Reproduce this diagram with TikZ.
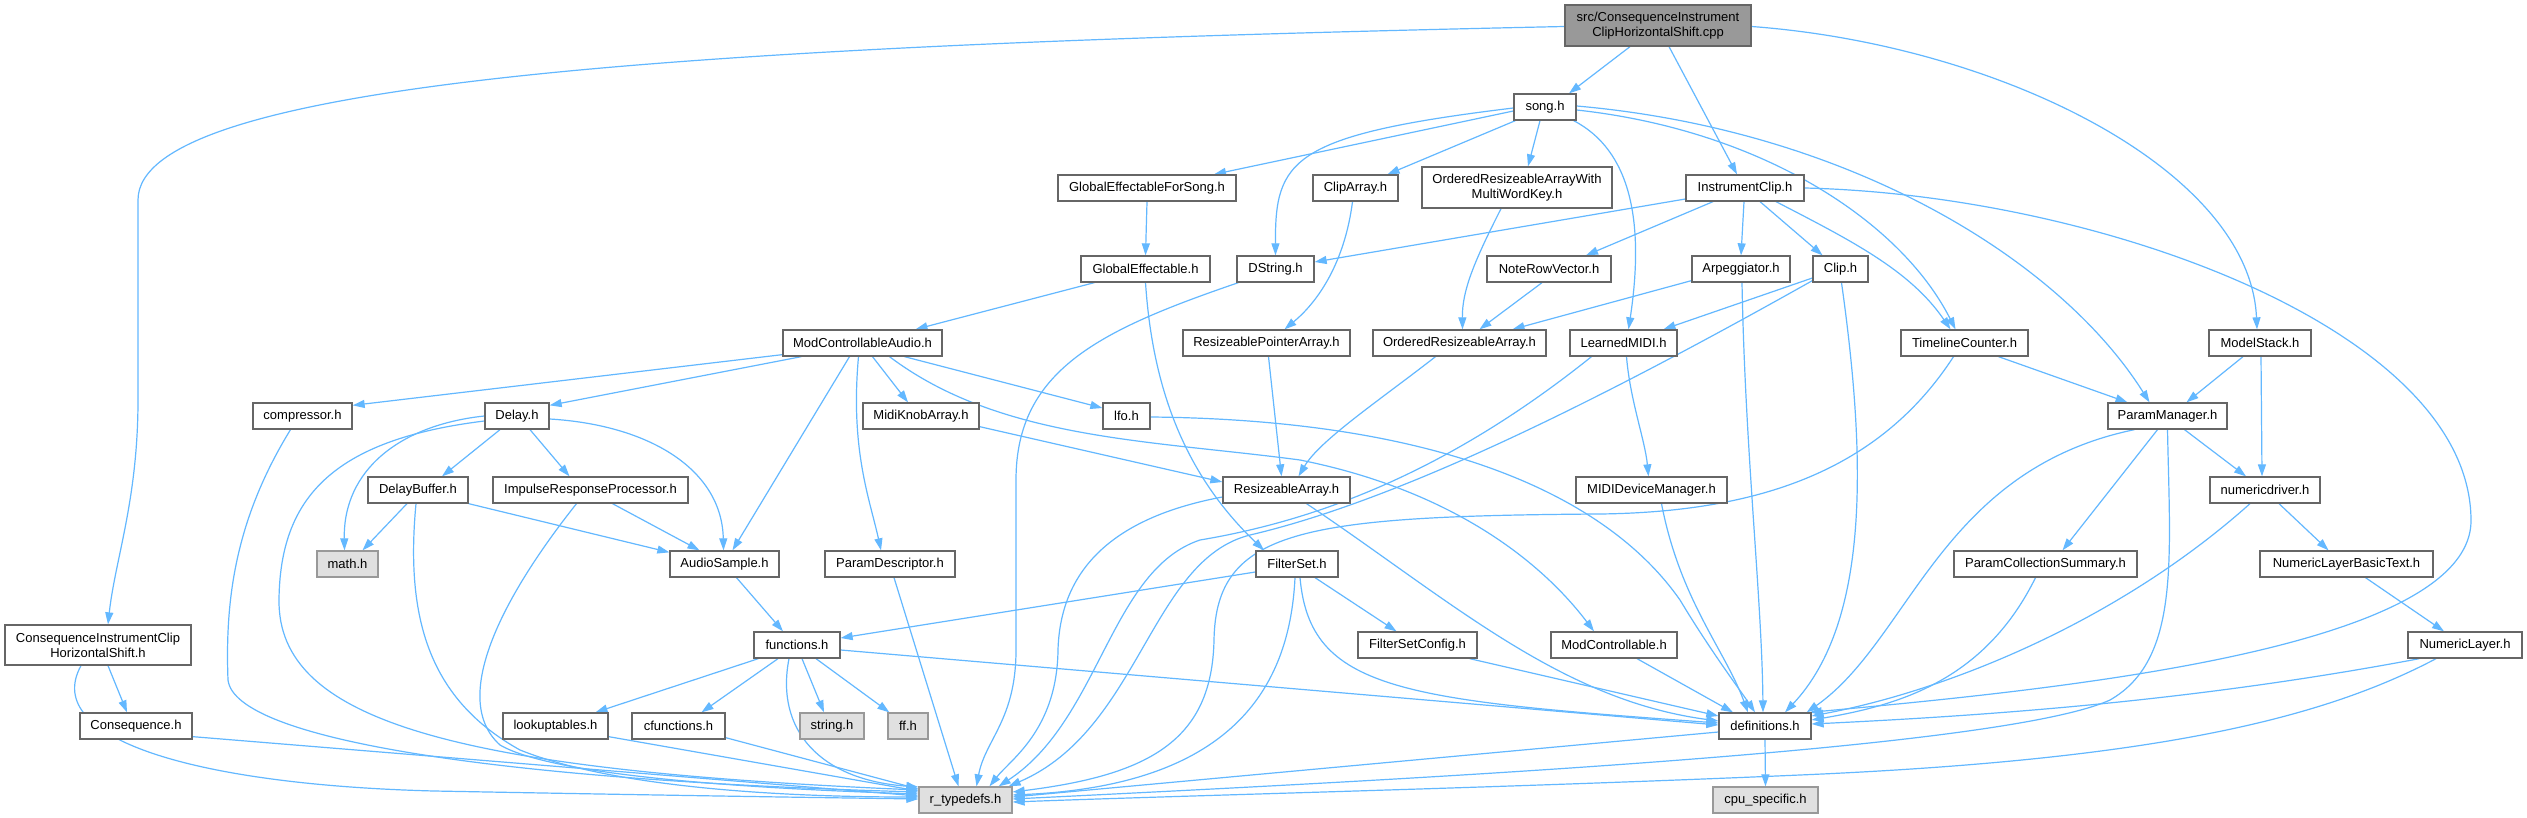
\documentclass[tikz,border=0pt]{standalone}
\usepackage{fontspec}
\setmainfont{Liberation Sans}
\usetikzlibrary{arrows.meta,calc}
\definecolor{edgec}{HTML}{63B8FF}
\definecolor{bordc}{HTML}{666666}
\definecolor{grayfill}{HTML}{E0E0E0}
\definecolor{grayb}{HTML}{999999}
\definecolor{mainfill}{HTML}{999999}
\pgfdeclarelayer{bg}\pgfdeclarelayer{edges}\pgfsetlayers{bg,edges,main}
\begin{document}
\begin{tikzpicture}[x=1pt,y=-1pt,
  nb/.style={rectangle,draw=bordc,fill=white,line width=1.3pt,inner sep=0pt,minimum height=26pt,font=\fontsize{13}{15}\selectfont,align=center,text=black},
  sysb/.style={nb,draw=grayb,fill=grayfill},
  mainb/.style={nb,fill=mainfill,minimum height=41pt},
  edge/.style={draw=edgec,line width=1.2pt,-{Triangle[length=12pt,width=8pt]}}]
\begin{pgfonlayer}{bg}
\fill[white] (0,0) rectangle (2527,818);
\end{pgfonlayer}
\useasboundingbox (0,0) rectangle (2527,818);
% nodes
\node[mainb,minimum width=186pt] (main) at (1658,25.5) {src/ConsequenceInstrument\\ClipHorizontalShift.cpp};
\node[nb,minimum width=62pt] (song) at (1545,107) {song.h};
\node[nb,minimum width=118pt] (IC) at (1745,188) {InstrumentClip.h};
\node[nb,minimum width=102pt] (MS) at (2260,343) {ModelStack.h};
\node[nb,minimum width=186pt,minimum height=40pt] (CICHS) at (98,645) {ConsequenceInstrumentClip\\HorizontalShift.h};
\node[nb,minimum width=178pt] (GEFS) at (1147,188) {GlobalEffectableForSong.h};
\node[nb,minimum width=85pt] (ClipArray) at (1355.5,188) {ClipArray.h};
\node[nb,minimum width=190pt,minimum height=41pt] (ORAWMWK) at (1517,187.5) {OrderedResizeableArrayWith\\MultiWordKey.h};
\node[nb,minimum width=129pt] (GE) at (1145.5,269) {GlobalEffectable.h};
\node[nb,minimum width=77pt] (DString) at (1275.5,269) {DString.h};
\node[nb,minimum width=124pt] (NRV) at (1549,269) {NoteRowVector.h};
\node[nb,minimum width=98pt] (Arp) at (1741,269) {Arpeggiator.h};
\node[nb,minimum width=55pt] (Clip) at (1840.5,269) {Clip.h};
\node[nb,minimum width=159pt] (MCA) at (862.5,343) {ModControllableAudio.h};
\node[nb,minimum width=167pt] (RPA) at (1266.5,343) {ResizeablePointerArray.h};
\node[nb,minimum width=173pt] (ORA) at (1459.5,343) {OrderedResizeableArray.h};
\node[nb,minimum width=107pt] (LMIDI) at (1623.5,343) {LearnedMIDI.h};
\node[nb,minimum width=127pt] (TC) at (1964.5,343) {TimelineCounter.h};
\node[nb,minimum width=99pt] (compressor) at (302.5,416) {compressor.h};
\node[nb,minimum width=64pt] (Delay) at (517,416) {Delay.h};
\node[nb,minimum width=116pt] (MKA) at (921,416) {MidiKnobArray.h};
\node[nb,minimum width=47pt] (lfo) at (1126.5,416) {lfo.h};
\node[nb,minimum width=119pt] (PM) at (2167.5,416) {ParamManager.h};
\node[nb,minimum width=100pt] (DelayBuffer) at (418,490) {DelayBuffer.h};
\node[nb,minimum width=195pt] (IRP) at (590.5,490) {ImpulseResponseProcessor.h};
\node[nb,minimum width=127pt] (RA) at (1286.5,490) {ResizeableArray.h};
\node[nb,minimum width=151pt] (MIDIDM) at (1651.5,490) {MIDIDeviceManager.h};
\node[nb,minimum width=110pt] (numericdriver) at (2265,490) {numericdriver.h};
\node[sysb,minimum width=61pt] (math) at (347.5,564) {math.h};
\node[nb,minimum width=109pt] (AudioSample) at (724.5,564) {AudioSample.h};
\node[nb,minimum width=130pt] (ParamDescriptor) at (890,564) {ParamDescriptor.h};
\node[nb,minimum width=82pt] (FilterSet) at (1297,564) {FilterSet.h};
\node[nb,minimum width=183pt] (PCS) at (2045.5,564) {ParamCollectionSummary.h};
\node[nb,minimum width=173pt] (NLBT) at (2346.5,564) {NumericLayerBasicText.h};
\node[nb,minimum width=86pt] (functions) at (797,645) {functions.h};
\node[nb,minimum width=119pt] (FSC) at (1417.5,645) {FilterSetConfig.h};
\node[nb,minimum width=126pt] (ModControllable) at (1614,645) {ModControllable.h};
\node[nb,minimum width=114pt] (NumericLayer) at (2465,645) {NumericLayer.h};
\node[nb,minimum width=112pt] (Consequence) at (136,726) {Consequence.h};
\node[nb,minimum width=105pt] (lookuptables) at (555.5,726) {lookuptables.h};
\node[nb,minimum width=93pt] (cfunctions) at (678.5,726) {cfunctions.h};
\node[sysb,minimum width=64pt] (string) at (832,726) {string.h};
\node[sysb,minimum width=40pt] (ff) at (908,726) {ff.h};
\node[nb,minimum width=92pt] (definitions) at (1765,726) {definitions.h};
\node[sysb,minimum width=93pt] (rtypedefs) at (965.5,800) {r\_typedefs.h};
\node[sysb,minimum width=105pt] (cpuspecific) at (1765.5,800) {cpu\_specific.h};
% edges
\begin{pgfonlayer}{edges}
% main
\draw[edge] ($(main.south)+(-28,0)$) -- ($(song.north)+(24,0)$);
\draw[edge] ($(main.south)+(11,0)$) -- ($(IC.north)+(-8,0)$);
\draw[edge] ($(main.east)+(0,1)$) .. controls (2000,45) and (2250,170) .. ($(MS.north)+(-3,0)$);
\draw[edge] ($(main.west)+(0,1)$) .. controls (700,45) and (138,80) .. (138,200) -- (138,400) .. controls (138,500) and (115,560) .. ($(CICHS.north)+(10,0)$);
% song
\draw[edge] ($(song.west)+(0,4)$) -- ($(GEFS.north)+(67,0)$);
\draw[edge] ($(song.west)+(0,1)$) .. controls (1290,135) and (1275,160) .. (DString.north);
\draw[edge] ($(song.south west)+(2,0)$) -- ($(ClipArray.north)+(32,0)$);
\draw[edge] ($(song.south)+(-5,0)$) -- ($(ORAWMWK.north)+(11,0)$);
\draw[edge] ($(song.south east)+(-3,0)$) .. controls (1630,150) and (1645,220) .. ($(LMIDI.north)+(5,0)$);
\draw[edge] ($(song.east)+(0,3)$) .. controls (1760,130) and (1900,220) .. ($(TC.north)+(-9,0)$);
\draw[edge] ($(song.east)+(0,-1)$) .. controls (1850,130) and (2060,260) .. ($(PM.north)+(-18,0)$);
% InstrumentClip
\draw[edge] ($(IC.west)+(0,11)$) -- ($(DString.east)+(0,-7)$);
\draw[edge] ($(IC.south)+(-32,0)$) -- ($(NRV.north)+(37,0)$);
\draw[edge] ($(IC.south)+(-1,0)$) -- (Arp.north);
\draw[edge] ($(IC.south)+(15,0)$) -- ($(Clip.north)+(-18,0)$);
\draw[edge] ($(IC.south)+(31,0)$) .. controls (1850,240) and (1910,270) .. ($(TC.north)+(-14,0)$);
\draw[edge] (IC.east) .. controls (2100,195) and (2470,330) .. (2471,520) .. controls (2472,650) and (2050,690) .. ($(definitions.north east)+(-2,0)$);
% ModelStack, TimelineCounter
\draw[edge] ($(MS.south)+(-17,0)$) -- ($(PM.north)+(19,0)$);
\draw[edge] ($(MS.south)+(1,0)$) -- ($(numericdriver.north)+(-3,0)$);
\draw[edge] ($(TC.south)+(34,0)$) -- ($(PM.north)+(-40,0)$);
\draw[edge] ($(TC.south)+(-11,0)$) .. controls (1880,470) and (1760,512) .. (1600,514) .. controls (1300,516) and (1216,530) .. (1214,640) .. controls (1212,740) and (1150,775) .. ($(rtypedefs.east)+(0,-8)$);
% Clip
\draw[edge] ($(Clip.west)+(0,9)$) -- ($(LMIDI.north)+(40,0)$);
\draw[edge] ($(Clip.south west)+(0,-2)$) .. controls (1600,400) and (1400,500) .. (1250,535) .. controls (1150,560) and (1140,730) .. ($(rtypedefs.north east)+(-4,0)$);
\draw[edge] ($(Clip.south)+(1,0)$) .. controls (1865,450) and (1872,620) .. ($(definitions.north)+(20,0)$);
% Arpeggiator
\draw[edge] ($(Arp.south west)+(0,-2)$) -- ($(ORA.north)+(53,0)$);
\draw[edge] ($(Arp.south)+(1,0)$) .. controls (1745,450) and (1762,600) .. ($(definitions.north)+(-2,0)$);
% upper middle
\draw[edge] (GEFS.south) -- (GE.north);
\draw[edge] ($(GE.south west)+(14,0)$) -- ($(MCA.north)+(53,0)$);
\draw[edge] (GE.south) .. controls (1152,380) and (1180,470) .. ($(FilterSet.north)+(-33,0)$);
\draw[edge] ($(ClipArray.south)+(-3,0)$) .. controls (1345,260) and (1320,300) .. ($(RPA.north)+(18,0)$);
\draw[edge] ($(ORAWMWK.south)+(-16,0)$) .. controls (1475,260) and (1462,290) .. ($(ORA.north)+(3,0)$);
\draw[edge] ($(NRV.south)+(-7,0)$) -- ($(ORA.north)+(20,0)$);
\draw[edge] ($(LMIDI.south)+(3,0)$) .. controls (1630,400) and (1645,440) .. ($(MIDIDM.north)+(-3,0)$);
\draw[edge] ($(LMIDI.south)+(-32,0)$) .. controls (1450,470) and (1320,520) .. (1200,540) .. controls (1110,570) and (1100,720) .. ($(rtypedefs.north east)+(-14,0)$);
% ResizeableArray
\draw[edge] ($(RPA.south)+(2,0)$) -- ($(RA.north)+(-5,0)$);
\draw[edge] ($(ORA.south)+(-24,0)$) .. controls (1380,400) and (1320,440) .. ($(RA.north)+(12,0)$);
\draw[edge] ($(MKA.south east)+(0,-3)$) -- ($(RA.west)+(0,-8)$);
\draw[edge] ($(RA.west)+(0,7)$) .. controls (1100,520) and (1060,580) .. (1058,650) .. controls (1057,730) and (1010,760) .. ($(rtypedefs.north)+(24,0)$);
\draw[edge] ($(RA.south)+(20,0)$) .. controls (1450,600) and (1560,700) .. ($(definitions.west)+(0,-5)$);
% ModControllableAudio
\draw[edge] ($(MCA.south west)+(0,-2)$) -- ($(compressor.north east)+(0,3)$);
\draw[edge] ($(MCA.south west)+(19,0)$) -- ($(Delay.north east)+(0,3)$);
\draw[edge] ($(MCA.south)+(10,0)$) -- ($(MKA.north)+(-13,0)$);
\draw[edge] ($(MCA.south)+(42,0)$) -- ($(lfo.west)+(0,-8)$);
\draw[edge] ($(MCA.south)+(-13,0)$) -- ($(AudioSample.north)+(8,0)$);
\draw[edge] ($(MCA.south)+(-4,0)$) .. controls (850,450) and (870,500) .. ($(ParamDescriptor.north)+(-9,0)$);
\draw[edge] ($(MCA.south)+(27,0)$) .. controls (1000,440) and (1150,440) .. (1300,460) .. controls (1450,490) and (1540,560) .. ($(ModControllable.north)+(-20,0)$);
% compressor / Delay family
\draw[edge] ($(compressor.south)+(-12,0)$) .. controls (235,520) and (225,600) .. (228,680) .. controls (235,740) and (500,780) .. ($(rtypedefs.west)+(0,-8)$);
\draw[edge] ($(Delay.west)+(0,5)$) .. controls (330,440) and (280,500) .. (279,600) .. controls (278,720) and (450,770) .. ($(rtypedefs.west)+(0,-10)$);
\draw[edge] (Delay.west) .. controls (400,425) and (343,470) .. ($(math.north)+(-3,0)$);
\draw[edge] ($(Delay.south)+(-17,0)$) -- ($(DelayBuffer.north)+(24,0)$);
\draw[edge] ($(Delay.south)+(13,0)$) -- ($(IRP.north)+(-21,0)$);
\draw[edge] ($(Delay.east)+(0,3)$) .. controls (650,425) and (722,470) .. ($(AudioSample.north)+(-1,0)$);
\draw[edge] ($(DelayBuffer.south)+(-2,0)$) .. controls (405,620) and (430,700) .. (520,750) .. controls (620,790) and (800,797) .. ($(rtypedefs.west)+(0,-3)$);
\draw[edge] ($(DelayBuffer.south)+(-11,0)$) -- ($(math.north)+(15,0)$);
\draw[edge] (DelayBuffer.south east) -- ($(AudioSample.north west)+(0,2)$);
\draw[edge] ($(IRP.south)+(-14,0)$) .. controls (500,600) and (450,700) .. (500,745) .. controls (560,780) and (800,790) .. ($(rtypedefs.west)+(0,-6)$);
\draw[edge] ($(IRP.south)+(22,0)$) -- ($(AudioSample.north)+(-25,0)$);
\draw[edge] ($(AudioSample.south)+(12,0)$) -- ($(functions.north)+(-14,0)$);
\draw[edge] ($(ParamDescriptor.south)+(4,0)$) -- ($(rtypedefs.north)+(-7,0)$);
\draw[edge] ($(DString.south west)+(2,0)$) .. controls (1100,330) and (1016,370) .. (1016,480) -- (1016,650) .. controls (1016,720) and (985,740) .. ($(rtypedefs.north)+(11,0)$);
% FilterSet
\draw[edge] ($(FilterSet.west)+(0,8)$) -- ($(functions.east)+(0,-7)$);
\draw[edge] ($(FilterSet.south)+(18,0)$) -- ($(FSC.north)+(-21,0)$);
\draw[edge] ($(FilterSet.south)+(3,0)$) .. controls (1310,690) and (1400,700) .. ($(definitions.west)+(0,-3)$);
\draw[edge] ($(FilterSet.south)+(-2,0)$) .. controls (1290,680) and (1240,785) .. ($(rtypedefs.east)+(0,-5)$);
\draw[edge] ($(FSC.south east)+(-8,0)$) -- ($(definitions.west)+(0,-10)$);
\draw[edge] ($(ModControllable.south)+(23,0)$) -- ($(definitions.north)+(-32,0)$);
\draw[edge] ($(functions.east)+(0,5)$) -- ($(definitions.west)+(0,-1)$);
\draw[edge] ($(lfo.east)+(0,1)$) .. controls (1450,420) and (1610,500) .. (1680,600) .. controls (1710,650) and (1740,690) .. ($(definitions.north)+(-10,0)$);
\draw[edge] ($(MIDIDM.south)+(10,0)$) .. controls (1680,600) and (1725,650) .. ($(definitions.north)+(-17,0)$);
% ParamManager family
\draw[edge] ($(PM.south west)+(27,0)$) .. controls (1940,470) and (1910,640) .. ($(definitions.north east)+(-5,0)$);
\draw[edge] (PM.south) .. controls (2170,560) and (2180,660) .. (2110,700) .. controls (2000,750) and (1400,780) .. ($(rtypedefs.east)+(0,-1)$);
\draw[edge] ($(PM.south)+(-10,0)$) -- ($(PCS.north)+(17,0)$);
\draw[edge] ($(PM.south)+(17,0)$) -- ($(numericdriver.north)+(-19,0)$);
\draw[edge] ($(numericdriver.south)+(14,0)$) -- ($(NLBT.north)+(-18,0)$);
\draw[edge] ($(numericdriver.south)+(-15,0)$) .. controls (2120,620) and (1950,690) .. ($(definitions.east)+(0,-10)$);
\draw[edge] ($(NLBT.south)+(19,0)$) -- ($(NumericLayer.north)+(-21,0)$);
\draw[edge] ($(PCS.south)+(-10,0)$) .. controls (1985,680) and (1900,705) .. ($(definitions.east)+(0,-6)$);
\draw[edge] ($(NumericLayer.south west)+(12,0)$) .. controls (2200,700) and (2000,715) .. ($(definitions.east)+(0,-2)$);
\draw[edge] ($(NumericLayer.south)+(-29,0)$) .. controls (2320,720) and (2150,760) .. (1800,775) .. controls (1500,788) and (1200,795) .. ($(rtypedefs.east)+(0,2)$);
\draw[edge] ($(definitions.west)+(0,6)$) -- ($(rtypedefs.east)+(0,-3)$);
\draw[edge] (definitions.south) -- (cpuspecific.north);
% functions
\draw[edge] ($(functions.south west)+(5,0)$) -- ($(lookuptables.north)+(40,0)$);
\draw[edge] ($(functions.south)+(-19,0)$) -- ($(cfunctions.north)+(23,0)$);
\draw[edge] ($(functions.south)+(5,0)$) -- ($(string.north)+(-8,0)$);
\draw[edge] ($(functions.south)+(19,0)$) -- ($(ff.north west)+(2,0)$);
\draw[edge] ($(functions.south)+(-8,0)$) .. controls (775,730) and (820,780) .. ($(rtypedefs.west)+(0,-13)$);
\draw[edge] ($(lookuptables.south east)+(0,-3)$) -- ($(rtypedefs.west)+(0,-9)$);
\draw[edge] ($(cfunctions.south east)+(0,-2)$) -- ($(rtypedefs.west)+(0,-11)$);
% Consequence
\draw[edge] ($(CICHS.south)+(-17,0)$) .. controls (40,740) and (200,785) .. (434,791) .. controls (700,796) and (850,798) .. ($(rtypedefs.west)+(0,-1)$);
\draw[edge] ($(CICHS.south)+(10,0)$) -- ($(Consequence.north)+(-9,0)$);
\draw[edge] ($(Consequence.south east)+(0,-3)$) -- ($(rtypedefs.west)+(0,-4)$);
\end{pgfonlayer}
\end{tikzpicture}
\end{document}
